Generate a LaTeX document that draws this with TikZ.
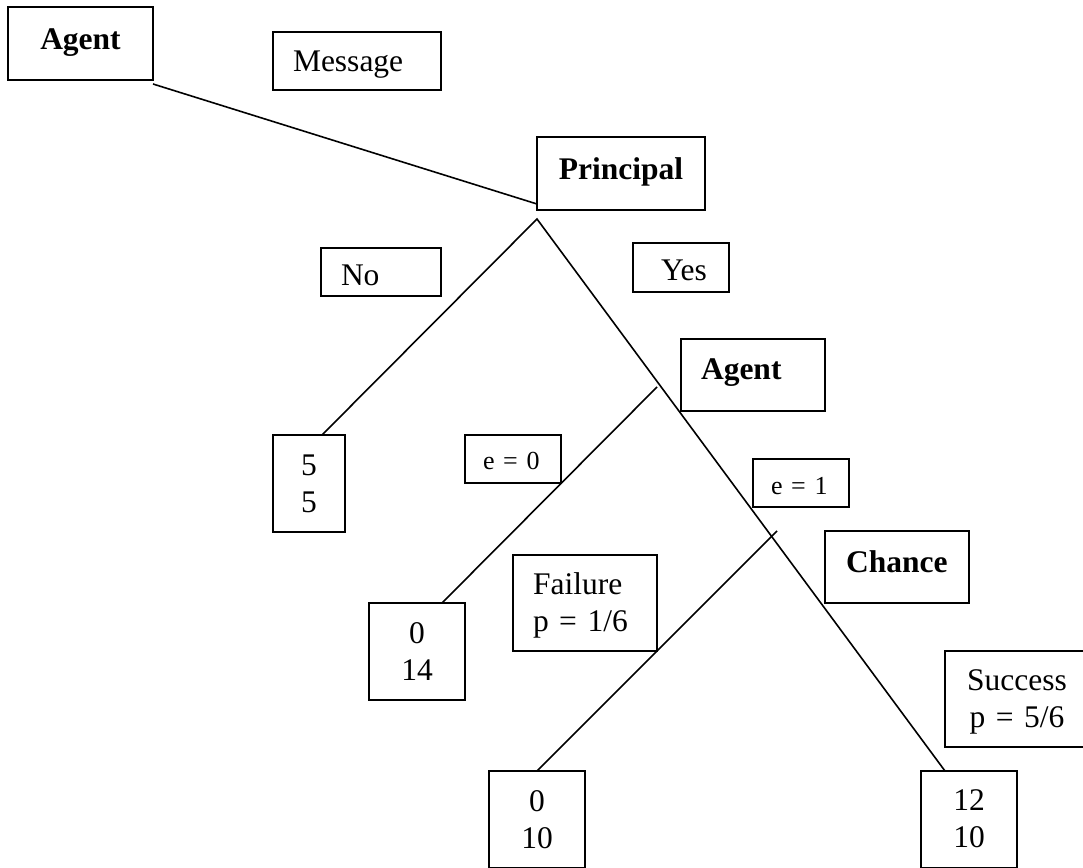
\documentclass[tikz,border=0pt]{standalone}
\usepackage{fontspec}
\setmainfont{Liberation Serif}
\begin{document}
\begin{tikzpicture}[x=1pt, y=-1pt,
    box/.style={draw, line width=2pt, inner ysep=0pt, outer sep=0pt, anchor=north west,
      font=\fontsize{31.5}{37}\selectfont},
    player/.style={font=\fontsize{31.5}{37}\selectfont\bfseries},
    smalltext/.style={font=\fontsize{26}{31}\selectfont},
    sized/.style n args={4}{text width=#1, inner xsep=#2, text height=#3, text depth=#4},
    branch/.style={line width=1.6pt}]
    \useasboundingbox (0,0) rectangle (1083,867);

    % players
    \node[box, player, sized={145pt}{0pt}{42pt}{31pt}, align=center] (agentA) at (8,7) {Agent};
    \node[box, player, sized={168pt}{0pt}{42pt}{31pt}, align=center] (principal) at (537,137) {Principal};
    \node[box, player, sized={104pt}{20pt}{40pt}{32pt}, align=left] (agentB) at (681,339) {Agent};
    \node[box, player, sized={102pt}{21pt}{41pt}{31pt}, align=left] (chance) at (825,531) {Chance};

    % moves
    \node[box, sized={128pt}{20pt}{39pt}{19pt}, align=left] (msg) at (273,32) {Message};
    \node[box, sized={80pt}{20pt}{37pt}{11pt}, align=left] (no) at (321,248) {No};
    \node[box, sized={40pt}{28pt}{37pt}{12pt}, align=left] (yes) at (633,243) {Yes};
    \node[box, smalltext, sized={60pt}{18pt}{34pt}{14pt}, align=left] (eZero) at (465,435) {e = 0};
    \node[box, smalltext, sized={60pt}{18pt}{35pt}{13pt}, align=left] (eOne) at (753,459) {e = 1};
    \node[box, sized={104pt}{20pt}{39pt}{57pt}, align=left] (failure) at (513,555) {Failure\\p = 1/6};
    \node[box, sized={144pt}{0pt}{39pt}{57pt}, align=center] (success) at (945,651) {Success\\p = 5/6};

    % payoffs
    \node[box, sized={72pt}{0pt}{40pt}{57pt}, align=center] (payNo) at (273,435) {5\\5};
    \node[box, sized={96pt}{0pt}{40pt}{57pt}, align=center] (payShirk) at (369,603) {0\\14};
    \node[box, sized={96pt}{0pt}{40pt}{57pt}, align=center] (payFail) at (489,771) {0\\10};
    \node[box, sized={96pt}{0pt}{39pt}{58pt}, align=center] (paySucc) at (921,771) {12\\10};

    % decision points
    \coordinate (pDec) at (537,219);
    \coordinate (aDec) at (657,387);
    \coordinate (cDec) at (777,531);

    % branches
    \draw[branch] ([yshift=-4pt]agentA.south east) -- ([yshift=6pt]principal.south west);
    \draw[branch] ([xshift=13pt]payNo.north) -- (pDec) -- ([xshift=-24pt]paySucc.north);
    \draw[branch] (aDec) -- ([xshift=25pt]payShirk.north);
    \draw[branch] (cDec) -- (payFail.north);
\end{tikzpicture}
\end{document}
